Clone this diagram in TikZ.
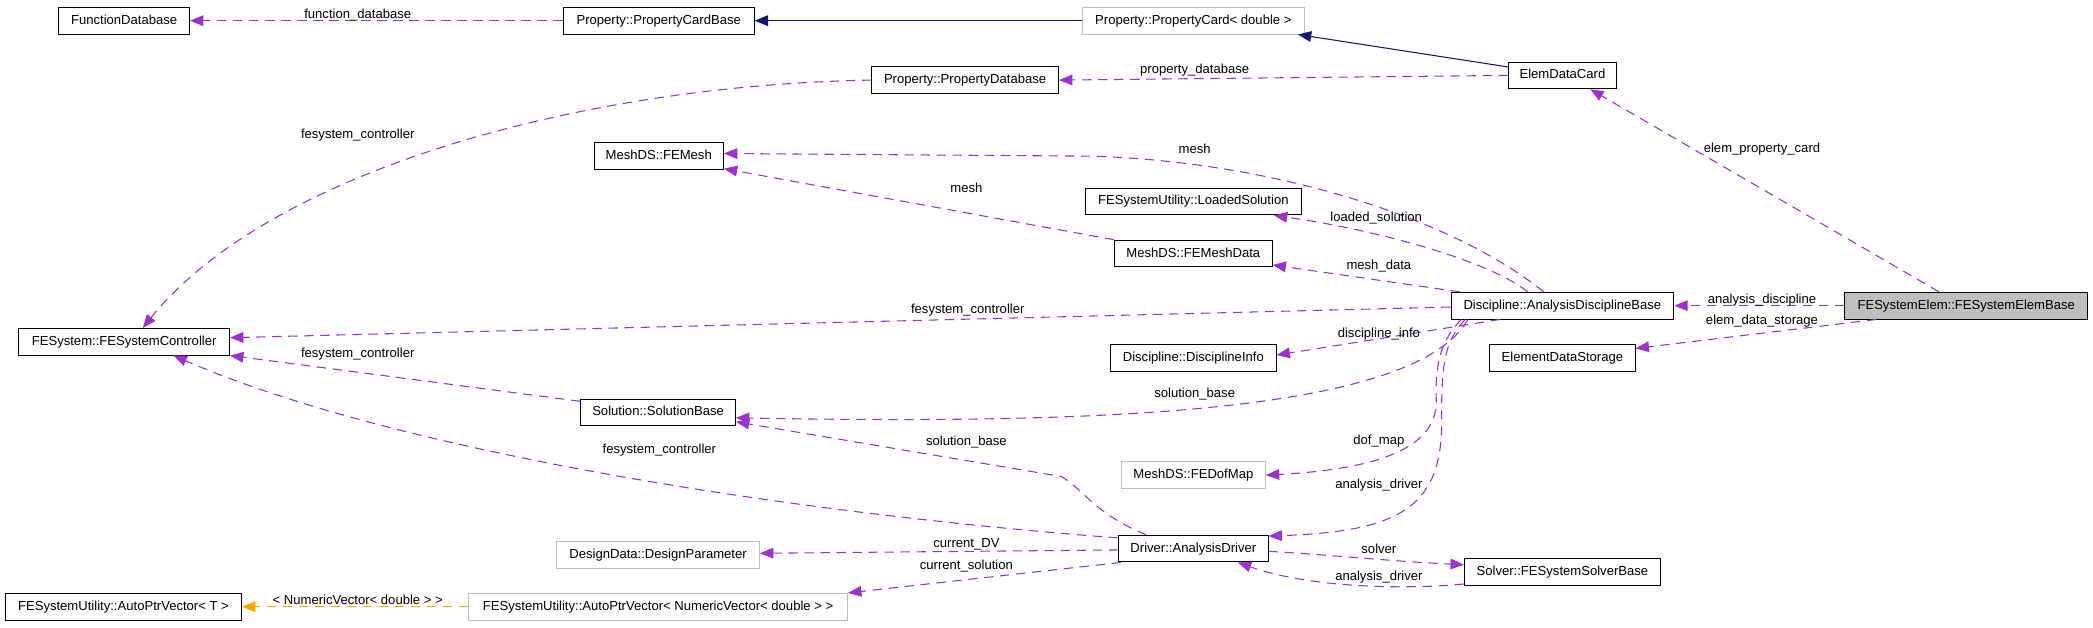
\documentclass[tikz,border=0pt]{standalone}
\usepackage{fontspec}
\setmainfont{Liberation Sans}
\usetikzlibrary{arrows.meta,calc}
\definecolor{usecol}{HTML}{9A32CD}
\definecolor{inhcol}{HTML}{191970}
\definecolor{tplcol}{HTML}{FFA500}
\definecolor{undoc}{HTML}{BFBFBF}
\definecolor{grayfill}{HTML}{BFBFBF}
\begin{document}
\begin{tikzpicture}[x=1pt,y=-1pt,
  cls/.style={draw=black, fill=white, line width=0.7pt, minimum height=20pt, inner sep=0pt, text height=7.2pt, text depth=2.1pt, font=\fontsize{9.8}{11}\selectfont},
  ucls/.style={cls, draw=undoc},
  lab/.style={anchor=base, inner sep=0pt, font=\fontsize{9.8}{11}\selectfont},
  use/.style={draw=usecol, line width=0.8pt, dash pattern=on 7pt off 5pt, -{Triangle[length=10pt,width=8pt]}},
  inh/.style={draw=inhcol, line width=0.8pt, -{Triangle[length=10pt,width=8pt]}},
  tpl/.style={draw=tplcol, line width=0.8pt, dash pattern=on 7pt off 5pt, -{Triangle[length=10pt,width=8pt]}},
]
\useasboundingbox (0,0) rectangle (1568,470);
% nodes
\node[cls, minimum width=98pt] (fdb) at (93,15.5) {FunctionDatabase};
\node[cls, minimum width=143pt] (pcb) at (493.5,15.5) {Property::PropertyCardBase};
\node[ucls, minimum width=166pt] (pc) at (894,15.5) {Property::PropertyCard< double >};
\node[cls, minimum width=81pt] (edc) at (1170.5,56.5) {ElemDataCard};
\node[cls, minimum width=140pt] (pdb) at (723,60) {Property::PropertyDatabase};
\node[cls, minimum width=97pt] (mesh) at (493.5,117) {MeshDS::FEMesh};
\node[cls, minimum width=162pt] (ls) at (894,151) {FESystemUtility::LoadedSolution};
\node[cls, minimum width=118pt] (md) at (894,190) {MeshDS::FEMeshData};
\node[cls, minimum width=167pt] (adb) at (1170.5,229) {Discipline::AnalysisDisciplineBase};
\node[cls, fill=grayfill, minimum width=182pt] (feb) at (1473,229) {FESystemElem::FESystemElemBase};
\node[cls, minimum width=158pt] (fsc) at (93,256) {FESystem::FESystemController};
\node[cls, minimum width=124pt] (di) at (894,268) {Discipline::DisciplineInfo};
\node[cls, minimum width=109pt] (eds) at (1170.5,268) {ElementDataStorage};
\node[cls, minimum width=116pt] (sb) at (493,309) {Solution::SolutionBase};
\node[ucls, minimum width=108pt] (dof) at (894,356) {MeshDS::FEDofMap};
\node[ucls, minimum width=152pt] (dp) at (493,416) {DesignData::DesignParameter};
\node[cls, minimum width=112pt] (drv) at (894,411) {Driver::AnalysisDriver};
\node[cls, minimum width=147pt] (sol) at (1170.5,428.5) {Solver::FESystemSolverBase};
\node[cls, minimum width=177pt] (apt) at (92.5,454.5) {FESystemUtility::AutoPtrVector< T >};
\node[ucls, minimum width=284pt] (apnv) at (493,454.5) {FESystemUtility::AutoPtrVector< NumericVector< double > >};
% edges
\draw[use] (pcb.west) -- (fdb.east);
\draw[inh] (pc.west) -- (pcb.east);
\draw[inh] ($(edc.north west)+(0,4)$) -- ($(pc.south east)+(-5,0)$);
\draw[use] (edc.west) -- (pdb.east);
\draw[use] (pdb.west) .. controls (430,64) and (200,130) .. ($(fsc.north)+(14,0)$);
\draw[use] ($(adb.north)+(-14,0)$) .. controls (1090,165) and (960,122) .. (820,117) -- ($(mesh.east)+(0,-2)$);
\draw[use] (md.north west) -- ($(mesh.south east)+(0,-1)$);
\draw[use] ($(adb.north)+(-26,0)$) .. controls (1115,195) and (1030,172) .. ($(ls.south east)+(-21,0)$);
\draw[use] ($(adb.north west)+(7,0)$) -- ($(md.east)+(0,8.5)$);
\draw[use] ($(adb.west)+(0,1)$) -- ($(fsc.east)+(0,-3)$);
\draw[use] ($(adb.south west)+(37,0)$) -- ($(di.east)+(0,-2)$);
\draw[use] ($(adb.south west)+(13,0)$) .. controls (1060,310) and (820,318) .. ($(sb.east)+(0,4)$);
\draw[use] ($(adb.south west)+(8,0)$) .. controls (1080,255) and (1075,270) .. (1076,300) .. controls (1077,340) and (1020,352) .. (dof.east);
\draw[use] ($(adb.south west)+(11,0)$) .. controls (1083,255) and (1080,270) .. (1080,310) .. controls (1082,380) and (1050,398) .. ($(drv.north east)+(0,1)$);
\draw[use] ($(drv.north west)+(21,0)$) .. controls (820,385) and (810,365) .. (795,357) -- ($(sb.east)+(0,7)$);
\draw[use] ($(drv.west)+(0,-8)$) .. controls (600,385) and (300,340) .. ($(fsc.south)+(37,0)$);
\draw[use] ($(sb.north west)+(0,2)$) -- (fsc.south east);
\draw[use] ($(drv.west)+(0,1)$) -- ($(dp.east)+(0,-1.5)$);
\draw[use] ($(drv.south west)+(2,0)$) -- (apnv.north east);
\draw[use] ($(drv.east)+(0,2)$) .. controls (1000,416) and (1050,421) .. ($(sol.west)+(0,-5.5)$);
\draw[use] ($(sol.west)+(0,9)$) .. controls (1050,442) and (980,440) .. ($(drv.south east)+(-23,0)$);
\draw[use] (feb.west) -- (adb.east);
\draw[use] ($(feb.south west)+(24,0)$) -- ($(eds.east)+(0,-7)$);
\draw[use] ($(feb.north west)+(71,0)$) -- ($(edc.south east)+(-20,0)$);
\draw[tpl] (apnv.west) -- (apt.east);
% labels
\node[lab] (l1) at (268,13.5) {function\_database};
\node[lab] (l2) at (268,104) {fesystem\_controller};
\node[lab] (l3) at (895,55) {property\_database};
\node[lab] (l4) at (1320,114) {elem\_property\_card};
\node[lab] (l5) at (895,115) {mesh};
\node[lab] (l6) at (724,144) {mesh};
\node[lab] (l7) at (1031,166) {loaded\_solution};
\node[lab] (l8) at (1033,202) {mesh\_data};
\node[lab] (l9) at (1320,227) {analysis\_discipline};
\node[lab] (l10) at (1320,243) {elem\_data\_storage};
\node[lab] (l11) at (725,235) {fesystem\_controller};
\node[lab] (l12) at (1033,253) {discipline\_info};
\node[lab] (l13) at (268,268) {fesystem\_controller};
\node[lab] (l14) at (895,298) {solution\_base};
\node[lab] (l15) at (724,334) {solution\_base};
\node[lab] (l16) at (1033,333) {dof\_map};
\node[lab] (l17) at (494,340) {fesystem\_controller};
\node[lab] (l18) at (1033,366) {analysis\_driver};
\node[lab] (l19) at (724,410) {current\_DV};
\node[lab] (l20) at (1033,415) {solver};
\node[lab] (l21) at (724,427) {current\_solution};
\node[lab] (l22) at (1033,435) {analysis\_driver};
\node[lab] (l23) at (268,452.5) {< NumericVector< double > >};
\end{tikzpicture}
\end{document}
